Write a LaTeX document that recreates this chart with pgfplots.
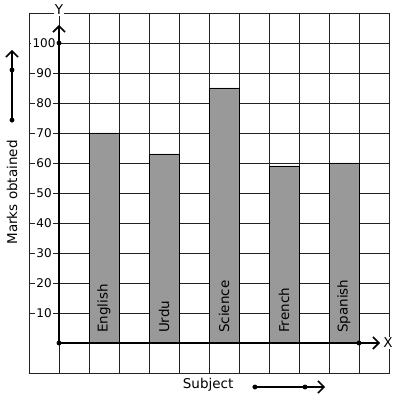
\documentclass[border=0pt]{standalone}
\usepackage{fontspec}
\setmainfont{DejaVu Sans}
\usepackage{pgfplots}
\pgfplotsset{compat=1.18}
\usetikzlibrary{arrows.meta}
\definecolor{barg}{HTML}{999999}
\definecolor{gridc}{HTML}{222222}
\begin{document}
\begin{tikzpicture}
\begin{axis}[
  scale only axis, width=360pt, height=360pt,
  xmin=-1, xmax=11, ymin=-10, ymax=110,
  clip=false,
  axis line style={gridc, line width=0.8pt},
  xtick={0,1,...,10}, xticklabels={},
  ytick={10,20,...,100},
  yticklabels={10,20,30,40,50,60,70,80,90,100},
  /pgf/number format/assume math mode=true,
  major tick length=0pt,
  grid=major,
  major grid style={gridc, line width=0.8pt},
  yticklabel style={anchor=center, xshift=15pt, fill=white, inner sep=1.5pt, font=\fontsize{12}{14}\selectfont},
]
\addplot[ybar, bar width=1, bar shift=0, fill=barg, draw=black, line width=0.8pt]
  coordinates {(1.5,70) (3.5,63) (5.5,85) (7.5,59) (9.5,60)};
\draw[line width=2pt, -{Straight Barb[length=6pt,width=12pt,line width=1.6pt]}] (axis cs:0,0) -- (axis cs:0,106);
\draw[line width=2pt, -{Straight Barb[length=6pt,width=12pt,line width=1.6pt]}] (axis cs:0,0) -- (axis cs:10.7,0);
\draw[line width=1.8pt, -{Straight Barb[length=6pt,width=12pt,line width=1.6pt]}] (axis cs:-1.567,74.3) -- (axis cs:-1.567,97.7);
\draw[line width=1.8pt, -{Straight Barb[length=6pt,width=12pt,line width=1.6pt]}] (axis cs:6.53,-14.67) -- (axis cs:8.87,-14.67);
\addplot[only marks, mark=*, mark size=2.2pt, black]
  coordinates {(0,0) (0,100) (10,0) (-1.567,74.3) (-1.567,91) (6.53,-14.67) (8.2,-14.67)};
\foreach \xx/\lab in {1.5/English, 3.5/Urdu, 5.5/Science, 7.5/French, 9.5/Spanish}{
  \edef\tmp{\noexpand\node[rotate=90, anchor=west, inner sep=0pt, font=\noexpand\fontsize{13.5}{15}\noexpand\selectfont] at (axis cs:\xx,3.3) {\lab};}
  \tmp
}
\node[fill=white, inner sep=1pt, font=\fontsize{13.5}{15}\selectfont] at (axis cs:0,111) {Y};
\node[fill=white, inner sep=1pt, font=\fontsize{13.5}{15}\selectfont] at (axis cs:10.97,0) {X};
\node[rotate=90, font=\fontsize{13.5}{15}\selectfont] at (axis cs:-1.567,50.2) {Marks obtained};
\node[font=\fontsize{13.5}{15}\selectfont] at (axis cs:4.97,-14) {Subject};
\path (axis cs:-1.967,114.33) rectangle (axis cs:11.267,-18.67);
\end{axis}
\end{tikzpicture}
\end{document}
